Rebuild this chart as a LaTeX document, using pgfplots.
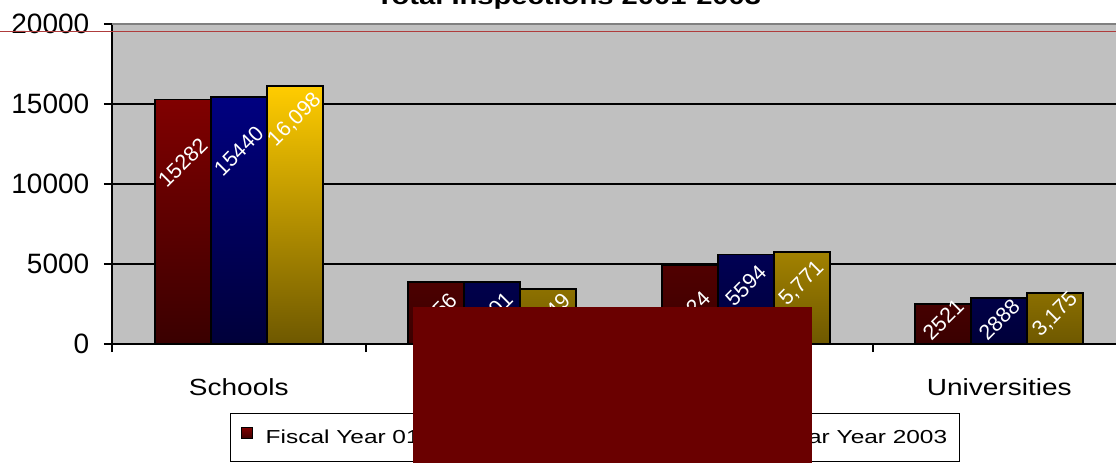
\documentclass[border=0pt]{standalone}
\usepackage{pgfplots}
\pgfplotsset{compat=1.18}
\usepackage{pgfplotstable}
\usepackage{fontspec}
\setmainfont{Liberation Sans}
\newfontfamily\catfont[FakeStretch=1.2]{Liberation Sans}
\newfontfamily\legfont[FakeStretch=1.3]{Liberation Sans}
\newfontfamily\titfont[FakeStretch=1.25]{Liberation Sans}
\definecolor{bg}{RGB}{192,192,192}
\definecolor{rtop}{RGB}{128,0,0}
\definecolor{rbot}{RGB}{58,0,0}
\definecolor{btop}{RGB}{0,0,128}
\definecolor{bbot}{RGB}{0,0,58}
\definecolor{ytop}{RGB}{255,204,0}
\definecolor{ybot}{RGB}{110,88,0}
\definecolor{redact}{RGB}{106,0,0}
\definecolor{thinred}{RGB}{175,60,60}
\definecolor{topgray}{RGB}{128,128,128}

% off = label offset below the bar top (pt), layout only
\pgfplotstableread{
x y lab off
0 15282 15282 47.25
1 3856 3856 23.25
2 4924 4924 34.5
3 2521 2521 12
}\fyone
\pgfplotstableread{
x y lab off
0 15440 15440 40.5
1 3901 3901 23.25
2 5594 5594 23.25
3 2888 2888 16.5
}\fytwo
\pgfplotstableread{
x y lab off
0 16098 16,098 25.1
1 3449 3,449 21
2 5771 5,771 24
3 3175 3,175 16.1
}\cythree

\pgfplotsset{
  sqleg/.style={legend image code/.code={\draw[##1, line width=0.8pt] (0pt,-0.6pt) rectangle (8.6pt,8pt);}},
}

\begin{document}
\begin{tikzpicture}
\useasboundingbox (0,0) rectangle (837pt,347.25pt);
\clip (0,0) rectangle (837pt,347.25pt);
\begin{axis}[
  at={(84pt,89.25pt)}, anchor=south west,
  scale only axis, width=760.5pt, height=240pt,
  xmin=-0.5, xmax=3.5, ymin=0, ymax=20000,
  ytick={0,5000,10000,15000,20000},
  scaled ticks=false,
  axis x line*=bottom, axis y line*=left,
  axis line style={line width=1.5pt, -},
  axis background/.style={fill=bg},
  ymajorgrids, grid style={black, line width=1.3pt},
  tick align=outside, major tick length=6pt,
  tick style={black, line width=1.5pt},
  xtick={-0.5,0.5,1.5,2.5,3.5}, xticklabels={},
  extra x ticks={0,1,2,3},
  extra x tick labels={Schools,Day Care,Hospitals,Universities},
  extra x tick style={tick style={draw=none}, grid=none,
    xticklabel style={font=\catfont\fontsize{17.5}{18}\selectfont, anchor=base, yshift=-32.25pt}},
  yticklabel style={font=\fontsize{21}{21}\selectfont, xshift=-7.5pt},
  /pgf/number format/assume math mode=true,
  /pgf/number format/1000 sep={},
  ybar=0pt, bar width=42pt,
  nodes near coords, point meta=explicit symbolic,
  visualization depends on={\thisrow{off} \as \off},
  every node near coord/.append style={white, font=\fontsize{16}{16}\selectfont, anchor=center, yshift={0-\off}, rotate=45},
  legend columns=3,
  legend style={at={(0.11637,-0.2156)}, anchor=north west, draw=black, line width=0.8pt, fill=white,
    font=\legfont\fontsize{14.1}{15}\selectfont, inner xsep=7.5pt, inner ysep=10pt,
    /tikz/every odd column/.append style={column sep=7.5pt},
    /tikz/every even column/.append style={column sep=38pt}},
]
\addplot[draw=black, line width=1.4pt, top color=rtop, bottom color=rbot, sqleg] table[x=x,y=y,meta=lab] {\fyone};
\addplot[draw=black, line width=1.4pt, top color=btop, bottom color=bbot, sqleg] table[x=x,y=y,meta=lab] {\fytwo};
\addplot[draw=black, line width=1.4pt, top color=ytop, bottom color=ybot, sqleg] table[x=x,y=y,meta=lab] {\cythree};
\legend{Fiscal Year 01, Fiscal Year 02, Calendar Year 2003}
\draw[topgray, line width=2pt] (rel axis cs:0,1) -- (rel axis cs:1,1);
\end{axis}
\draw[thinred, line width=1.1pt] (0,323.5pt) -- (837pt,323.5pt);
\fill[redact] (309.75pt,0) rectangle (609pt,117pt);
\node[font=\titfont\bfseries\fontsize{17.5}{18}\selectfont, anchor=base, inner sep=0pt] at (426.4pt,344pt) {Total Inspections 2001-2003};
\end{tikzpicture}
\end{document}
